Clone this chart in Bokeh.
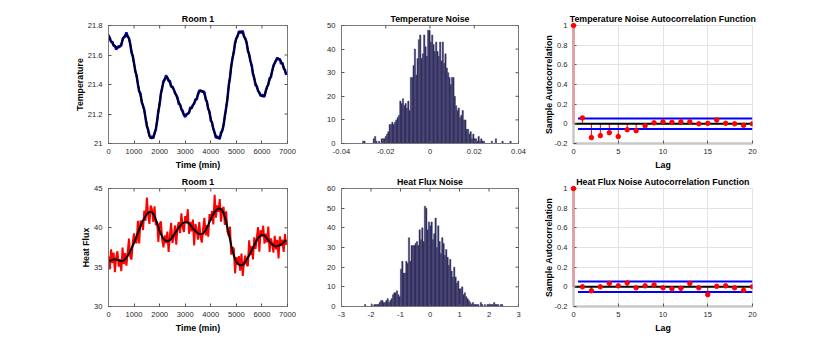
import math
from bokeh.plotting import figure
from bokeh.models import Range1d, FixedTicker, NumeralTickFormatter
from bokeh.layouts import column, row
from bokeh.embed import file_html
from bokeh.resources import INLINE

# ---------------- data ----------------
time_min = list(range(0, 7000, 50))  # sample times (min)

temp_smooth = [
    21.737, 21.71, 21.69, 21.68, 21.67, 21.66, 21.65, 21.648, 21.65, 21.66,
    21.675, 21.70, 21.72, 21.735, 21.74, 21.73, 21.71, 21.675, 21.63, 21.585,
    21.54, 21.495, 21.45, 21.405, 21.36, 21.325, 21.29, 21.255, 21.22, 21.175,
    21.13, 21.085, 21.05, 21.037, 21.035, 21.045, 21.065, 21.10, 21.15, 21.21,
    21.28, 21.335, 21.38, 21.415, 21.44, 21.45, 21.448, 21.43, 21.41, 21.395,
    21.38, 21.365, 21.35, 21.325, 21.30, 21.28, 21.26, 21.235, 21.21, 21.195,
    21.19, 21.192, 21.20, 21.215, 21.23, 21.245, 21.26, 21.275, 21.29, 21.31,
    21.33, 21.35, 21.36, 21.358, 21.35, 21.335, 21.31, 21.28, 21.24, 21.205,
    21.17, 21.135, 21.10, 21.07, 21.05, 21.04, 21.035, 21.04, 21.06, 21.09,
    21.13, 21.18, 21.24, 21.31, 21.38, 21.45, 21.52, 21.58, 21.63, 21.675,
    21.71, 21.735, 21.75, 21.758, 21.76, 21.75, 21.73, 21.71, 21.68, 21.64,
    21.60, 21.56, 21.52, 21.48, 21.44, 21.41, 21.38, 21.36, 21.34, 21.328,
    21.32, 21.322, 21.33, 21.35, 21.38, 21.405, 21.43, 21.46, 21.49, 21.52,
    21.55, 21.565, 21.572, 21.575, 21.57, 21.555, 21.54, 21.515, 21.49, 21.47,
]

# temperature noise in thousandths of a degree
temp_noise_milli = [
    -5, 8, -2, 11, -9, 4, -14, 6, 9, -3,
    -10, 7, 2, -12, 13, -6, 5, -1, -15, 10,
    3, -8, 12, -4, -7, 16, -11, 1, 8, -5,
    -13, 9, 4, -2, 14, -10, 6, -7, 3, 11,
    -16, 5, -3, 9, -8, 12, -1, -6, 15, -12,
    7, 2, -9, 4, 10, -14, 6, -4, 13, -2,
    -11, 8, 3, -7, 17, -9, 1, -5, 11, -13,
    6, 9, -3, -8, 4, 14, -10, 2, -6, 12,
    -15, 7, -1, 5, -12, 10, 3, -9, 16, -4,
    -7, 8, 1, -11, 13, -5, 6, -2, -14, 9,
    4, -8, 11, -3, -10, 15, -6, 2, 7, -13,
    5, -1, 12, -9, 3, -16, 10, -4, 6, -7,
    13, -2, -11, 8, 4, -5, 14, -12, 1, 9,
    -6, -3, 11, -8, 5, -15, 7, -4, 10, -6,
]

flux_smooth = [
    35.79, 35.83, 35.87, 35.92, 35.96, 35.97, 35.96, 35.92, 35.87, 35.82,
    35.79, 35.80, 35.87, 36.00, 36.20, 36.45, 36.73, 37.04, 37.37, 37.73,
    38.10, 38.52, 38.96, 39.38, 39.80, 40.20, 40.60, 40.92, 41.20, 41.50,
    41.74, 41.90, 42.00, 42.02, 41.96, 41.75, 41.44, 41.05, 40.60, 40.10,
    39.60, 39.20, 38.87, 38.62, 38.44, 38.34, 38.31, 38.35, 38.44, 38.63,
    38.87, 39.08, 39.30, 39.55, 39.80, 40.03, 40.24, 40.43, 40.60, 40.67,
    40.70, 40.70, 40.67, 40.54, 40.37, 40.15, 39.94, 39.76, 39.60, 39.44,
    39.30, 39.23, 39.20, 39.23, 39.30, 39.48, 39.73, 40.03, 40.37, 40.74,
    41.10, 41.44, 41.74, 42.00, 42.20, 42.35, 42.43, 42.45, 42.39, 42.18,
    41.87, 41.38, 40.80, 40.05, 39.30, 38.55, 37.80, 37.10, 36.50, 36.02,
    35.66, 35.45, 35.31, 35.25, 35.23, 35.30, 35.44, 35.68, 35.96, 36.23,
    36.50, 36.83, 37.16, 37.48, 37.80, 38.12, 38.44, 38.68, 38.87, 39.00,
    39.09, 39.07, 39.00, 38.85, 38.66, 38.45, 38.23, 38.05, 37.90, 37.76,
    37.67, 37.65, 37.67, 37.72, 37.80, 37.90, 38.00, 38.15, 38.31, 38.44,
]

flux_noise = [
    0.6, -1.1, 1.4, -0.4, 0.9, -1.6, 0.3, 1.1, -0.8, 0.2,
    -1.3, 1.7, -0.5, 0.8, -1.0, 0.4, 1.9, -0.7, -1.4, 0.5,
    1.2, -0.3, -0.9, 1.5, -1.8, 0.7, 0.1, -1.2, 1.0, -0.6,
    2.1, -0.2, -1.5, 0.8, 0.4, -1.0, 1.3, -0.7, 0.2, -1.9,
    0.9, 1.6, -0.4, -1.1, 0.6, -0.3, 1.2, -1.4, 0.5, 2.0,
    -0.8, -0.2, 1.0, -1.7, 0.3, 0.7, -0.9, 1.4, -0.5, -1.2,
    0.8, -0.1, 1.7, -1.3, 0.4, -0.6, 1.1, -2.0, 0.9, 0.2,
    -0.8, 1.5, -0.4, -1.1, 0.6, 1.8, -0.7, 0.3, -1.5, 1.0,
    -0.2, 0.7, -1.3, 2.2, -0.9, 0.5, -0.4, 1.2, -1.6, 0.1,
    0.8, -1.0, 1.3, -0.5, -0.3, 1.6, -1.2, 0.4, 0.9, -1.8,
    0.6, -0.1, 1.1, -0.7, 1.5, -1.4, 0.2, 0.8, -0.6, -1.1,
    1.9, -0.3, 0.5, -1.5, 1.0, -0.8, 0.3, 1.4, -1.9, 0.7,
    -0.2, 1.2, -1.0, 0.4, -0.5, 1.7, -1.3, 0.6, 0.1, -0.9,
    1.3, -0.4, 0.8, -1.6, 1.1, -0.2, 0.5, -1.2, 0.9, -0.6,
]

temp_hist_start = -0.0305
temp_hist_width = 0.0006
temp_hist_counts = [
    1, 1, 0, 0, 0, 0, 0, 0, 2, 3,
    1, 0, 1, 0, 2, 2, 2, 3, 4, 5,
    8, 8, 9, 8, 9, 10, 11, 12, 18, 17,
    19, 16, 17, 15, 18, 14, 28, 28, 33, 40,
    29, 36, 44, 46, 36, 38, 46, 41, 37, 48,
    48, 43, 46, 42, 39, 43, 39, 37, 43, 35,
    43, 34, 38, 32, 30, 28, 25, 28, 28, 20,
    16, 14, 15, 11, 12, 14, 10, 10, 6, 6,
    4, 5, 2, 4, 2, 2, 1, 3, 1, 2,
    1, 1, 0, 0, 0, 0, 0, 1, 0, 0,
    2, 0, 0, 0, 0, 1, 0, 0, 0, 0,
    0, 1,
]

flux_hist_start = -2.222
flux_hist_width = 0.0451
flux_hist_counts = [
    1, 0, 0, 0, 0, 1, 0, 1, 1, 1,
    1, 2, 3, 3, 2, 2, 3, 4, 2, 3,
    4, 6, 7, 7, 8, 6, 5, 19, 23, 17,
    17, 23, 22, 35, 23, 31, 31, 31, 32, 33,
    31, 39, 34, 40, 33, 51, 50, 39, 43, 41,
    43, 34, 37, 45, 30, 41, 33, 27, 35, 32,
    26, 29, 25, 21, 24, 18, 15, 20, 15, 12,
    13, 9, 9, 10, 6, 7, 5, 4, 3, 2,
    1, 2, 1, 1, 1, 1, 0, 2, 1, 0,
    1, 0, 1, 1, 1, 1, 1, 2, 1, 1,
    1, 0, 1, 1,
]

lags = list(range(21))
temp_acf = [1.0, 0.06, -0.14, -0.12, -0.09, -0.13, -0.06, -0.07, -0.02, 0.01,
            0.02, 0.015, 0.02, 0.02, 0.0, 0.005, 0.04, 0.005, 0.0, -0.015, 0.0]
flux_acf = [1.0, 0.0, -0.04, 0.0, 0.035, 0.01, 0.04, -0.01, 0.01, 0.02,
            -0.01, -0.02, -0.015, 0.035, -0.01, -0.08, 0.005, 0.01, -0.01, -0.035, 0.0]
conf_bound = 0.0535
bound_lags = [0.5, 20]

time_ticks = [0, 1000, 2000, 3000, 4000, 5000, 6000, 7000]
temp_ticks = [21.0, 21.2, 21.4, 21.6, 21.8]
flux_ticks = [30, 35, 40, 45]
temp_hist_xticks = [-0.04, -0.02, 0, 0.02, 0.04]
temp_hist_yticks = [0, 10, 20, 30, 40, 50]
flux_hist_xticks = [-3, -2, -1, 0, 1, 2, 3]
flux_hist_yticks = [0, 10, 20, 30, 40, 50, 60]
acf_xticks = [0, 5, 10, 15, 20]
acf_yticks = [-0.2, 0, 0.2, 0.4, 0.6, 0.8, 1]

# ---------------- style ----------------
FONT = "Liberation Sans"
TICK_FS = "7.6px"
LAB_FS = "8.8px"
TXT = "#262626"
BOX = "#7a7a7a"


def style_axis(ax, ticks, fmt, label=None, standoff=5, label_standoff=3,
               line_color=BOX, lw=1):
    ax.ticker = FixedTicker(ticks=ticks)
    ax.formatter = NumeralTickFormatter(format=fmt)
    ax.major_tick_in = 3
    ax.major_tick_out = 0
    ax.minor_tick_line_color = None
    ax.major_tick_line_color = "#555555"
    ax.axis_line_color = line_color
    ax.axis_line_width = lw
    ax.major_label_text_font = FONT
    ax.major_label_text_font_size = TICK_FS
    ax.major_label_text_color = TXT
    ax.major_label_standoff = standoff
    if label:
        ax.axis_label = label
        ax.axis_label_text_font = FONT
        ax.axis_label_text_font_size = LAB_FS
        ax.axis_label_text_font_style = "bold"
        ax.axis_label_text_color = "black"
        ax.axis_label_standoff = label_standoff


def make_fig(w, h, l, r, t, b, xr, yr, title, xticks, xfmt, yticks, yfmt,
             xlabel=None, ylabel=None, boxed=True):
    p = figure(width=w, height=h, x_range=Range1d(*xr), y_range=Range1d(*yr),
               output_backend="svg", toolbar_location=None, title=title,
               min_border_left=l, min_border_right=r,
               min_border_top=t, min_border_bottom=b)
    p.title.text_font = FONT
    p.title.text_font_size = LAB_FS
    p.title.text_font_style = "bold"
    p.title.text_color = "black"
    p.title.align = "center"
    p.title.standoff = 3
    p.title.offset = 0
    p.background_fill_color = "white"
    p.border_fill_color = "white"
    if boxed:
        style_axis(p.xaxis[0], xticks, xfmt, xlabel, standoff=5, label_standoff=3)
        style_axis(p.yaxis[0], yticks, yfmt, ylabel, standoff=6, label_standoff=0)
        p.grid.visible = False
        p.outline_line_color = BOX
        # inward tick marks on the top and right edges of the box
        p.scatter(xticks, [yr[1]] * len(xticks), marker="dash", angle=math.pi / 2,
                  size=6, line_color="#555555", line_width=1)
        p.scatter([xr[1]] * len(yticks), yticks, marker="dash",
                  size=6, line_color="#555555", line_width=1)
    else:
        style_axis(p.xaxis[0], xticks, xfmt, xlabel, standoff=5, label_standoff=3,
                   line_color="#c8c8c8", lw=2.5)
        style_axis(p.yaxis[0], yticks, yfmt, ylabel, standoff=6, label_standoff=-3,
                   line_color="#c8c8c8", lw=2.5)
        p.xgrid.ticker = FixedTicker(ticks=xticks)
        p.ygrid.ticker = FixedTicker(ticks=yticks)
        p.grid.grid_line_color = "#e3e3e3"
        p.outline_line_color = "#e3e3e3"
    return p


# geometry: (figure size, left/right or top/bottom borders)
C1 = (315, 108, 28)
C2 = (220, 26, 17)
C3 = (287, 38, 70)
R1 = (172, 25, 29)
R2 = (164, 16, 30)

temp_obs = [s + n / 1000.0 for s, n in zip(temp_smooth, temp_noise_milli)]
flux_obs = [s + n for s, n in zip(flux_smooth, flux_noise)]

HIST_FILL = "#211e5e"
HIST_LINE = "#4c4a6a"

# --- Room 1 temperature
p1 = make_fig(C1[0], R1[0], C1[1], C1[2], R1[1], R1[2], (0, 7000), (21, 21.8), "Room 1",
              time_ticks, "0", temp_ticks, "0.[0]", "Time (min)", "Temperature")
p1.line(time_min, temp_obs, line_color="#0000ff", line_width=2.5)
p1.line(time_min, temp_smooth, line_color="black", line_width=1.8)

# --- Temperature noise histogram
p2 = make_fig(C2[0], R1[0], C2[1], C2[2], R1[1], R1[2], (-0.04, 0.04), (0, 50), "Temperature Noise",
              temp_hist_xticks, "0.[00]", temp_hist_yticks, "0")
tl = [temp_hist_start + temp_hist_width * i for i in range(len(temp_hist_counts))]
p2.quad(left=tl, right=[x + temp_hist_width for x in tl], bottom=0, top=temp_hist_counts,
        fill_color=HIST_FILL, line_color=HIST_LINE, line_width=0.5)

# --- Temperature ACF
p3 = make_fig(C3[0], R1[0], C3[1], C3[2], R1[1], R1[2], (0, 20), (-0.2, 1),
              "Temperature Noise Autocorrelation Function",
              acf_xticks, "0", acf_yticks, "0.[0]", "Lag", "Sample Autocorrelation", boxed=False)

# --- Heat flux
p4 = make_fig(C1[0], R2[0], C1[1], C1[2], R2[1], R2[2], (0, 7000), (30, 45), "Room 1",
              time_ticks, "0", flux_ticks, "0", "Time (min)", "Heat Flux")
p4.line(time_min, flux_obs, line_color="#ff0000", line_width=2)
p4.line(time_min, flux_smooth, line_color="black", line_width=2)

# --- Heat flux noise histogram
p5 = make_fig(C2[0], R2[0], C2[1], C2[2], R2[1], R2[2], (-3, 3), (0, 60), "Heat Flux Noise",
              flux_hist_xticks, "0", flux_hist_yticks, "0")
fl = [flux_hist_start + flux_hist_width * i for i in range(len(flux_hist_counts))]
p5.quad(left=fl, right=[x + flux_hist_width for x in fl], bottom=0, top=flux_hist_counts,
        fill_color=HIST_FILL, line_color=HIST_LINE, line_width=0.5)

# --- Heat flux ACF
p6 = make_fig(C3[0], R2[0], C3[1], C3[2], R2[1], R2[2], (0, 20), (-0.2, 1),
              "Heat Flux Noise Autocorrelation Function",
              acf_xticks, "0", acf_yticks, "0.[0]", "Lag", "Sample Autocorrelation", boxed=False)

for p, acf in ((p3, temp_acf), (p6, flux_acf)):
    p.segment(x0=lags[1:], y0=[0] * (len(lags) - 1), x1=lags[1:], y1=acf[1:],
              line_color="#ff0000", line_width=1)
    p.line([lags[0], lags[-1]], [0, 0], line_color="black", line_width=2)
    p.line(bound_lags, [conf_bound, conf_bound], line_color="#0000ff", line_width=2)
    p.line(bound_lags, [-conf_bound, -conf_bound], line_color="#0000ff", line_width=2)
    p.scatter(lags[1:], acf[1:], marker="circle", size=4.5, fill_color="#ff0000",
              line_color="#ff0000")
    # lag-0 stem lies on the left axis: draw it above the guides
    p.segment(x0=lags[:1], y0=[0], x1=lags[:1], y1=acf[:1], line_color="#e29a9a",
              line_width=2.5, level="overlay")
    p.scatter(lags[:1], acf[:1], marker="circle", size=4.5, fill_color="#ff0000",
              line_color="#ff0000", level="overlay")

layout = column(row(p1, p2, p3), row(p4, p5, p6))

with open("out.html", "w") as f:
    f.write(file_html(layout, INLINE))
